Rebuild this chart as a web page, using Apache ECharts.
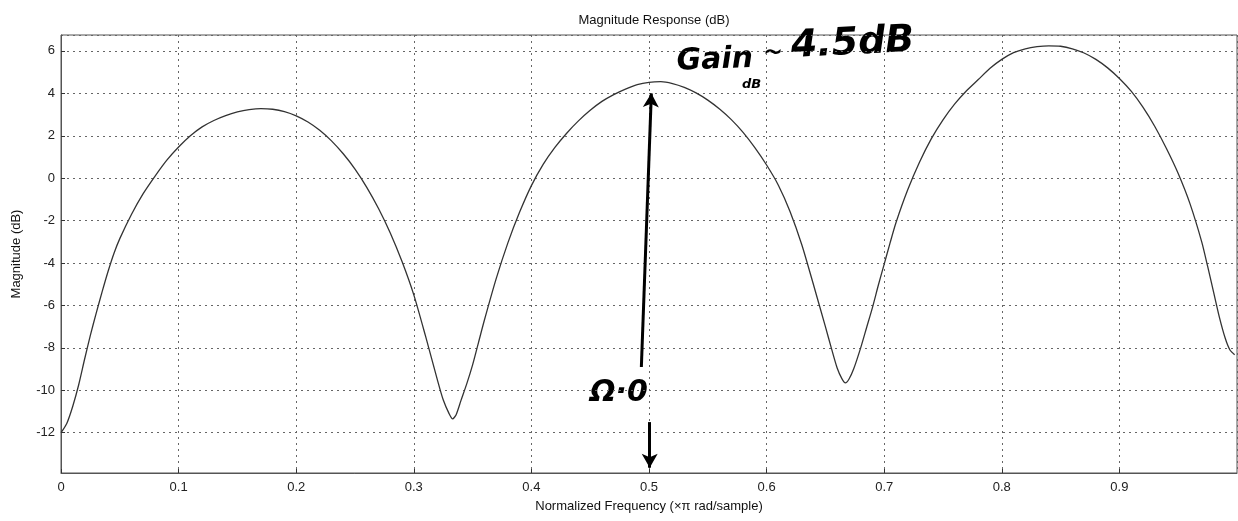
<!DOCTYPE html>
<html>
<head>
<meta charset="utf-8">
<script src="https://cdn.jsdelivr.net/npm/echarts@6/dist/echarts.min.js"></script>
<style>
html,body{margin:0;padding:0;background:#fff;}
#chart{width:1238px;height:521px;}
</style>
</head>
<body>
<div id="chart"></div>
<script>
// Normalized frequency (x pi rad/sample)
const freq = [0, 0.005, 0.01, 0.015, 0.02, 0.025, 0.03, 0.035, 0.04, 0.045, 0.05, 0.06, 0.07, 0.08, 0.09, 0.10, 0.11, 0.12, 0.13, 0.14, 0.15, 0.16, 0.17, 0.18, 0.19, 0.20, 0.21, 0.22, 0.23, 0.24, 0.25, 0.26, 0.27, 0.28, 0.29, 0.30, 0.31, 0.32, 0.325, 0.33, 0.333, 0.336, 0.34, 0.345, 0.35, 0.355, 0.36, 0.37, 0.38, 0.39, 0.40, 0.41, 0.42, 0.43, 0.44, 0.45, 0.46, 0.47, 0.48, 0.49, 0.50, 0.51, 0.52, 0.53, 0.54, 0.55, 0.56, 0.57, 0.58, 0.59, 0.60, 0.61, 0.62, 0.63, 0.64, 0.65, 0.655, 0.66, 0.664, 0.667, 0.670, 0.674, 0.68, 0.685, 0.69, 0.695, 0.70, 0.705, 0.71, 0.72, 0.73, 0.74, 0.75, 0.76, 0.77, 0.78, 0.79, 0.80, 0.81, 0.82, 0.83, 0.84, 0.85, 0.86, 0.87, 0.88, 0.89, 0.90, 0.91, 0.92, 0.93, 0.94, 0.95, 0.96, 0.97, 0.975, 0.98, 0.985, 0.99, 0.994, 0.998];
// Magnitude (dB)
const magDb = [-12, -11.55, -10.75, -9.75, -8.55, -7.4, -6.35, -5.35, -4.4, -3.55, -2.85, -1.7, -0.72, 0.1, 0.85, 1.47, 2.0, 2.42, 2.72, 2.95, 3.12, 3.23, 3.28, 3.25, 3.14, 2.94, 2.65, 2.26, 1.76, 1.15, 0.43, -0.43, -1.43, -2.58, -3.93, -5.5, -7.45, -9.5, -10.45, -11.1, -11.35, -11.15, -10.5, -9.7, -8.8, -7.75, -6.7, -4.75, -3.05, -1.6, -0.35, 0.65, 1.45, 2.12, 2.7, 3.2, 3.62, 3.94, 4.2, 4.41, 4.52, 4.55, 4.46, 4.28, 4.02, 3.68, 3.26, 2.76, 2.16, 1.44, 0.62, -0.33, -1.58, -3.15, -5.05, -7.0, -8.0, -8.95, -9.45, -9.65, -9.48, -9.0, -8.0, -7.05, -6.1, -5.05, -4.05, -3.05, -2.1, -0.55, 0.75, 1.85, 2.75, 3.5, 4.12, 4.65, 5.18, 5.6, 5.92, 6.1, 6.2, 6.24, 6.22, 6.1, 5.9, 5.6, 5.2, 4.7, 4.1, 3.35, 2.45, 1.4, 0.22, -1.2, -3.0, -4.15, -5.35, -6.55, -7.55, -8.1, -8.32];
// Handwritten arrows (data coordinates): [fromFreq, fromDb, toFreq, toDb]
const arrowUp = [0.4935, -8.9, 0.502, 4.0];
const arrowDown = [0.5006, -11.5, 0.5006, -13.65];

const chart = echarts.init(document.getElementById('chart'));
const data = freq.map((f, i) => [f, magDb[i]]);
const font = 'Liberation Sans, Arial, sans-serif';
const hand = 'DejaVu Sans, sans-serif';
const gridLine = {show: true, lineStyle: {color: '#666', width: 1, type: [2, 4]}};

chart.setOption({
  animation: false,
  backgroundColor: '#ffffff',
  title: {
    text: 'Magnitude Response (dB)',
    left: 649, top: 9, textAlign: 'center',
    textStyle: {fontFamily: font, fontSize: 13, fontWeight: 'normal', color: '#111'}
  },
  grid: {left: 61, right: 1, top: 35, bottom: 48, show: true, borderColor: '#555', borderWidth: 1, backgroundColor: 'transparent'},
  xAxis: {
    type: 'value', min: 0, max: 1, interval: 0.1,
    name: 'Normalized Frequency (\u00d7\u03c0 rad/sample)',
    nameLocation: 'middle', nameGap: 27,
    nameTextStyle: {fontFamily: font, fontSize: 13, color: '#111'},
    axisLine: {show: true, onZero: false, lineStyle: {color: '#555'}},
    axisTick: {show: true, inside: true, length: 4, lineStyle: {color: '#333'}},
    axisLabel: {showMaxLabel: false, fontFamily: font, fontSize: 13, color: '#222', margin: 8},
    splitLine: gridLine
  },
  yAxis: {
    type: 'value', min: -13.9, max: 6.75, splitNumber: 10,
    name: 'Magnitude (dB)',
    nameLocation: 'middle', nameGap: 38,
    nameTextStyle: {fontFamily: font, fontSize: 13, color: '#111'},
    axisLine: {show: true, onZero: false, lineStyle: {color: '#555'}},
    axisTick: {show: true, inside: true, length: 4, lineStyle: {color: '#333'}},
    axisLabel: {showMinLabel: false, showMaxLabel: false, fontFamily: font, fontSize: 13, color: '#222', margin: 6},
    splitLine: gridLine
  },
  series: [{
    type: 'line',
    data: data,
    showSymbol: false,
    smooth: 0.25,
    lineStyle: {color: '#333', width: 1.3},
    markLine: {
      silent: true,
      symbol: ['none', 'arrow'],
      symbolSize: [12, 14],
      lineStyle: {color: '#000', width: 3, type: 'solid'},
      label: {show: false},
      data: [
        [{coord: [arrowUp[0], arrowUp[1]]}, {coord: [arrowUp[2], arrowUp[3]]}],
        [{coord: [arrowDown[0], arrowDown[1]]}, {coord: [arrowDown[2], arrowDown[3]]}]
      ]
    }
  }],
  graphic: [
    {type: 'text', left: 676, top: 44, rotation: 0.04, style: {text: 'Gain', font: 'italic bold 30px ' + hand, fill: '#000'}},
    {type: 'text', left: 742, top: 78, style: {text: 'dB', font: 'italic bold 13px ' + hand, fill: '#000'}},
    {type: 'text', left: 763, top: 42, style: {text: '~', font: 'bold 24px ' + hand, fill: '#000'}},
    {type: 'text', left: 790, top: 22, rotation: 0.05, style: {text: '4.5dB', font: 'italic bold 38px ' + hand, fill: '#000'}},
    {type: 'text', left: 590, top: 378, style: {text: '\u03a9\u00b70', font: 'italic bold 30px ' + hand, fill: '#000'}}
  ]
});
</script>
</body>
</html>
